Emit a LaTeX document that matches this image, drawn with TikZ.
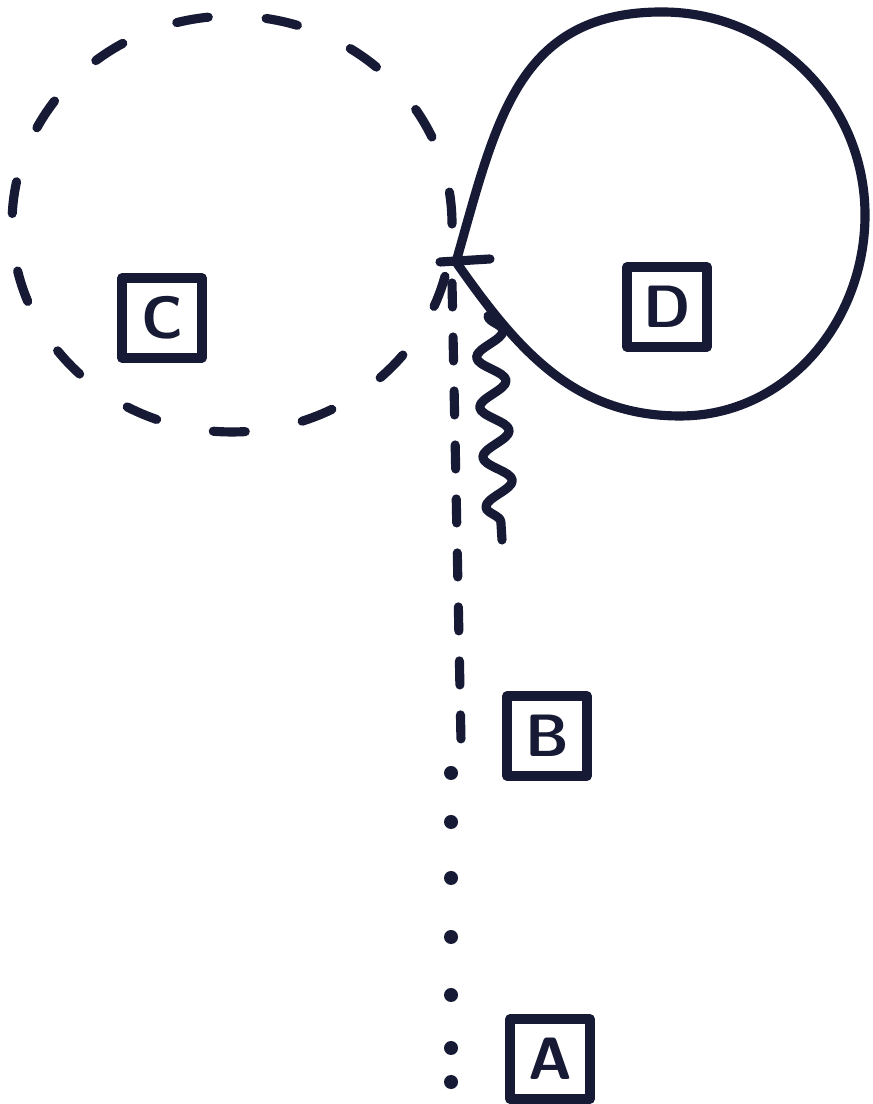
\documentclass[tikz,border=0pt]{standalone}
\usetikzlibrary{decorations.pathmorphing}
\definecolor{inkblue}{RGB}{22,26,52}

\begin{document}
\begin{tikzpicture}[
    pen/.style={draw=inkblue, line width=2.6pt, line cap=round, line join=round},
    labelbox/.style={pen, minimum width=0.80cm, minimum height=0.80cm, inner sep=0pt,
      text=inkblue, font=\sffamily\bfseries\fontsize{17}{17}\selectfont}
  ]

  \fill[white] (0,0) rectangle (8.73,11.04);

  % -------------------------
  % Raakpunt en cirkel C
  % -------------------------
  \coordinate (P) at (4.56,8.42);

  \draw[pen, dash pattern=on 0.32cm off 0.58cm] (2.32,8.80) ellipse [x radius=2.20, y radius=2.08];

  \node[labelbox] (C) at (1.62,7.86) {C};

  % -------------------------
  % Lus D
  % -------------------------
  \draw[pen] (P) to[out=74,in=180,looseness=1.15] (6.62,10.92) to[out=0,in=90] (8.65,8.89)
    to[out=-90,in=0] (6.80,6.88) to[out=180,in=-55] (P);

  \node[labelbox] (D) at (6.67,7.97) {D};

  % streepje
  \draw[pen] (P) ++(-0.16,0) -- ++(0.50,0.03);

  % -------------------------
  % Verticale lijn naar A
  % -------------------------
  \coordinate (Q) at (4.61,3.62);
  \draw[pen, dash pattern=on 0.24cm off 0.30cm] (4.52,8.21) -- (Q);

  \foreach \y in {3.31,2.82,2.26,1.67,1.09,0.56,0.22}
    \fill[inkblue] (4.51,\y) circle (0.07);

  % veer
  \draw[pen, decorate, decoration={snake, amplitude=0.14cm, segment length=0.50cm}]
    (4.88,7.88) -- (5.02,5.64);

  \node[labelbox] (B) at (5.47,3.68) {B};
  \node[labelbox] (A) at (5.50,0.45) {A};

\end{tikzpicture}
\end{document}
